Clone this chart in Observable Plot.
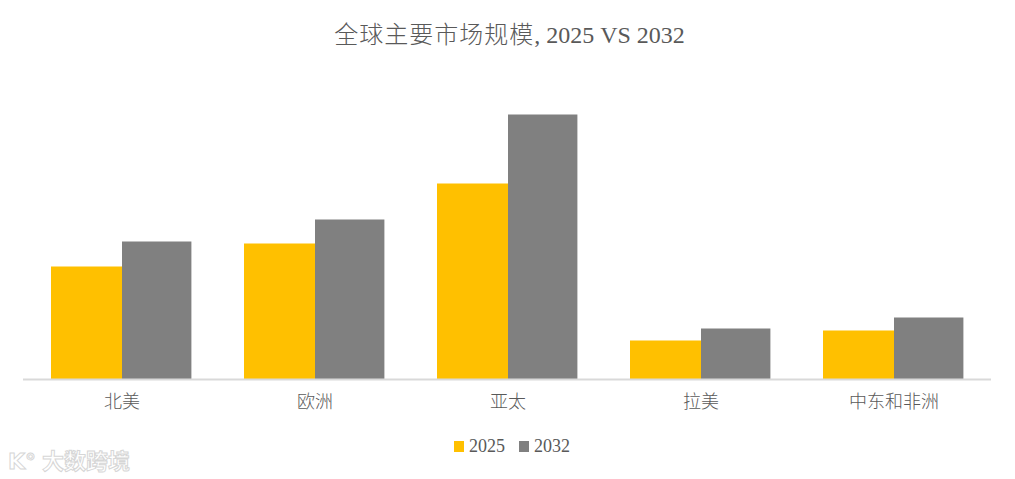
<!DOCTYPE html>
<html>
<head>
<meta charset="utf-8">
<script src="https://cdn.jsdelivr.net/npm/d3@7"></script>
<script src="https://cdn.jsdelivr.net/npm/@observablehq/plot@0.6"></script>
<style>
  html, body { margin: 0; padding: 0; background: #fff; }
  #wrap { position: relative; width: 1015px; height: 479px; overflow: hidden; font-family: "Liberation Serif", "Noto Sans CJK SC", serif; color: #595959; }
  #title { height: 64px; line-height: 66px; text-align: center; font-size: 24px; color: #595959; padding-left: 4px; box-sizing: border-box; }
  #title .cjk { font-family: "Noto Sans CJK SC", sans-serif; font-weight: 300; letter-spacing: 1px; }
  #legend { position: absolute; top: 436px; left: 0; width: 1015px; display: flex; justify-content: center; align-items: center; font-size: 18px; color: #595959; padding-left: 9px; box-sizing: border-box; }
  #legend .item { display: flex; align-items: center; margin: 0 7px; }
  #legend .sw { width: 10px; height: 11px; margin-right: 5px; }
  #wm { position: absolute; left: 8px; top: 443px; font-family: "Noto Sans CJK SC", sans-serif; font-weight: 700; font-size: 22px; color: #fff; -webkit-text-stroke: 1px #d6d6d6; }
  #wm .logo { font-family: "DejaVu Sans", sans-serif; font-size: 22px; margin-right: 6px; }
</style>
</head>
<body>
<div id="wrap">
  <div id="title"><span class="cjk">全球主要市场规模</span>, 2025 VS 2032</div>
  <div id="chart"></div>
  <div id="legend"></div>
  <div id="wm"><span class="logo">K°</span>大数跨境</div>
</div>
<script>
// Data (relative market size)
const regions = ["北美", "欧洲", "亚太", "拉美", "中东和非洲"];
const series = ["2025", "2032"];
const values2025 = [112.5, 135.5, 195.5, 38.5, 48.5];
const values2032 = [137.5, 159.5, 264.5, 50.5, 61.5];
const seriesColors = ["#FFC000", "#808080"];

const rows2025 = regions.map((r, i) => ({region: r, year: series[0], value: values2025[i]}));
const rows2032 = regions.map((r, i) => ({region: r, year: series[1], value: values2032[i]}));

const chart = Plot.plot({
  width: 1015,
  height: 360,
  marginLeft: 23,
  marginRight: 24,
  marginTop: 15,
  marginBottom: 45,
  style: { fontFamily: "'Noto Sans CJK SC', sans-serif", fontSize: "18px", color: "#595959", background: "#fff" },
  x: { domain: regions, padding: 0, label: null, tickSize: 0, tickPadding: 16 },
  y: { domain: [0, 300], axis: null },
  color: { domain: series, range: seriesColors },
  marks: [
    Plot.barY(rows2025, { x: "region", y: "value", fill: "year", insetLeft: 26, insetRight: 96 }),
    Plot.barY(rows2032, { x: "region", y: "value", fill: "year", insetLeft: 97, insetRight: 26.6 }),
    Plot.ruleY([0], { stroke: "#d9d9d9", strokeWidth: 2 })
  ]
});
document.getElementById("chart").appendChild(chart);
chart.querySelectorAll("g[aria-label='x-axis tick label'] text").forEach(t => { t.setAttribute("fill", "#595959"); t.style.fontWeight = "300"; });

const colorScale = chart.scale("color");
const legend = document.getElementById("legend");
series.forEach((s, i) => {
  const item = document.createElement("div");
  item.className = "item";
  const sw = document.createElement("div");
  sw.className = "sw";
  sw.style.background = colorScale.range[i];
  const lab = document.createElement("span");
  lab.textContent = s;
  item.appendChild(sw);
  item.appendChild(lab);
  legend.appendChild(item);
});
</script>
</body>
</html>
